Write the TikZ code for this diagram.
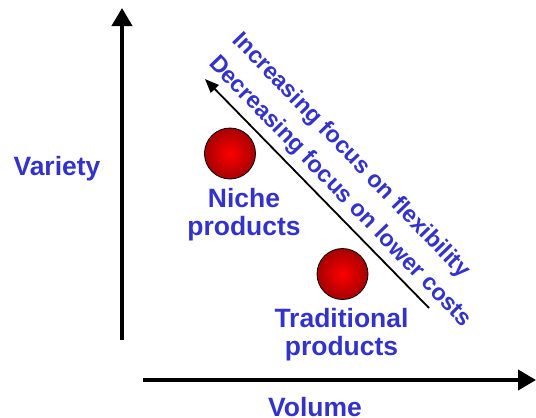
\documentclass[tikz,border=0pt]{standalone}
\usepackage{fontspec}
\setmainfont{Liberation Sans}
\usetikzlibrary{arrows.meta}
\definecolor{azul}{RGB}{51,51,204}
\tikzset{
  etiqueta/.style={text=azul, font=\fontsize{26.5}{28}\selectfont\bfseries, align=center, inner sep=0pt},
  eje/.style={line width=4pt, -{Triangle[length=18pt,width=20pt]}},
  bola/.style={circle, minimum size=51pt, inner sep=0pt, draw=black, line width=0.8pt, inner color=red, outer color=red!65!black},
}
\begin{document}
\begin{tikzpicture}[x=1pt,y=-1pt]
	\useasboundingbox (0,0) rectangle (536,418);
	\coordinate (o1) at (122,340); %pie del eje vertical
	\coordinate (v) at (122,8);
	\coordinate (o2) at (143,380); %inicio del eje horizontal
	\coordinate (h) at (536,380);
	\draw[eje] (o1) -- (v); %eje de variedad
	\draw[eje] (o2) -- (h); %eje de volumen
	\node[etiqueta, anchor=base] (variety) at (57,175.5) {Variety};
	\node[etiqueta, anchor=base] (volume) at (315,416.5) {Volume};
	\node[bola] (nicho) at (230,153.5) {}; %productos nicho
	\node[bola] (trad) at (342.5,274) {}; %productos tradicionales
	\node[etiqueta] (niche) at (244,215) {Niche\\products};
	\node[etiqueta] (traditional) at (341.5,334.5) {Traditional\\products};
	\coordinate (a) at (429,308); %flecha diagonal
	\coordinate (b) at (205,79);
	\draw[line width=1.8pt, -{Triangle[length=14pt,width=11pt]}] (a) -- (b);
	\node[text=azul, font=\fontsize{23.5}{33}\selectfont\bfseries, align=left, inner sep=0pt, rotate=-46, anchor=north west] (enfoque) at (244,29) {Increasing focus on flexibility\\Decreasing focus on lower costs};
\end{tikzpicture}
\end{document}
